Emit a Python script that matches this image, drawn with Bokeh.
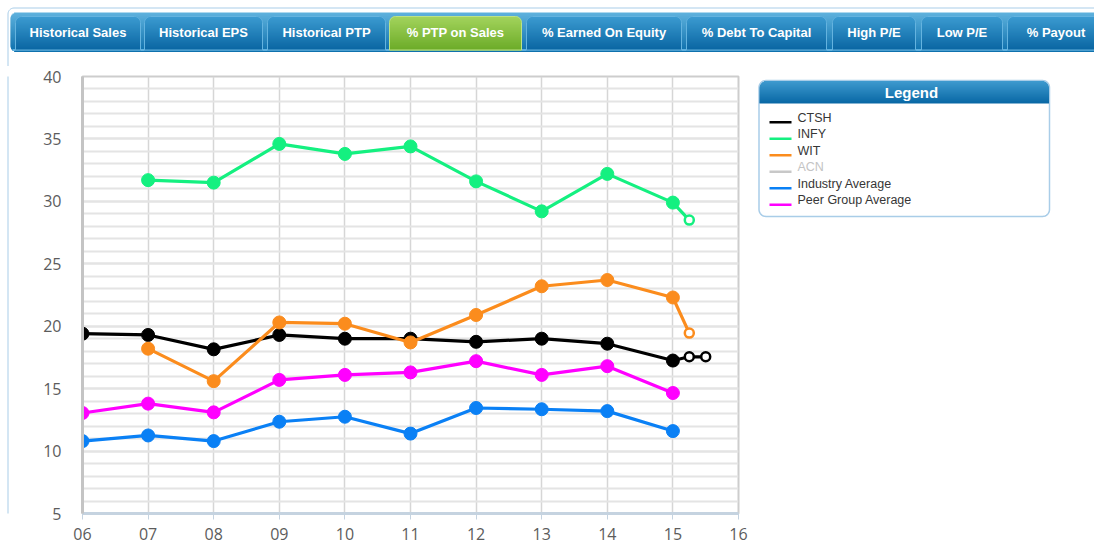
import math
from bokeh.plotting import figure
from bokeh.models import Range1d, FixedTicker
from bokeh.layouts import column, row
from bokeh.core.properties import value
from bokeh.embed import file_html
from bokeh.resources import INLINE

# ---------------- data ----------------
years = [6, 7, 8, 9, 10, 11, 12, 13, 14, 15]
tick_years = [6, 7, 8, 9, 10, 11, 12, 13, 14, 15, 16]
tick_labels = ["06", "07", "08", "09", "10", "11", "12", "13", "14", "15", "16"]
y_ticks = [5, 10, 15, 20, 25, 30, 35, 40]

ctsh = [19.4, 19.3, 18.15, 19.3, 19.0, 19.0, 18.75, 19.0, 18.6, 17.25]
infy = [None, 31.7, 31.5, 34.6, 33.8, 34.4, 31.6, 29.2, 32.2, 29.9]
wit = [None, 18.2, 15.6, 20.3, 20.2, 18.7, 20.9, 23.2, 23.7, 22.3]
industry = [10.8, 11.25, 10.8, 12.35, 12.75, 11.4, 13.45, 13.35, 13.2, 11.6]
peer = [13.05, 13.8, 13.1, 15.7, 16.1, 16.3, 17.2, 16.1, 16.8, 14.65]

est_x_ctsh = [15.25, 15.5]
est_ctsh = [17.55, 17.55]
est_x_infy = [15.25]
est_infy = [28.5]
est_x_wit = [15.25]
est_wit = [19.45]

legend_names = ["CTSH", "INFY", "WIT", "ACN", "Industry Average", "Peer Group Average"]
legend_colors = ["#000000", "#14f080", "#fb8c1d", "#c8c8c8", "#0a80f5", "#ff00ff"]
legend_text_colors = ["#363636", "#363636", "#363636", "#c4c4c4", "#363636", "#363636"]

tab_names = ["Historical Sales", "Historical EPS", "Historical PTP", "% PTP on Sales",
             "% Earned On Equity", "% Debt To Capital", "High P/E", "Low P/E", "% Payout"]
active_tab = "% PTP on Sales"

W, H = 1094, 547
TAB_H = 66          # height of the tab strip figure
STRIP_W = 9         # left border strip
LEG_X = 750         # legend figure starts here
FL, FT, FW, FH = 82, 76, 656, 437   # chart frame on the page
FB = FT + FH
BORDER = "#a9cde8"


# ---------------- helpers for decoration figures (page pixel coords) ----------------
def deco_fig(x0, x1, y0, y1, height):
    f = figure(width=x1 - x0, height=height, x_range=Range1d(x0, x1), y_range=Range1d(y1, y0),
               output_backend="svg", toolbar_location=None, min_border=0,
               x_axis_location=None, y_axis_location=None,
               background_fill_color="white", border_fill_color="white")
    f.outline_line_color = None
    f.grid.visible = False
    return f


def hexmix(c1, c2, t):
    a = [int(c1[i:i + 2], 16) for i in (1, 3, 5)]
    b = [int(c2[i:i + 2], 16) for i in (1, 3, 5)]
    return "#%02x%02x%02x" % tuple(round(a[k] + (b[k] - a[k]) * t) for k in range(3))


def rr_poly(x0, y0, x1, y1, r, n=8):
    tl, tr, br, bl = r
    xs, ys = [], []
    for k in range(n + 1):
        t = math.pi / 2 * k / n
        xs.append(x0 + tl - tl * math.cos(t)); ys.append(y0 + tl - tl * math.sin(t))
    for k in range(n + 1):
        t = math.pi / 2 * k / n
        xs.append(x1 - tr + tr * math.sin(t)); ys.append(y0 + tr - tr * math.cos(t))
    for k in range(n + 1):
        t = math.pi / 2 * k / n
        xs.append(x1 - br + br * math.cos(t)); ys.append(y1 - br + br * math.sin(t))
    for k in range(n + 1):
        t = math.pi / 2 * k / n
        xs.append(x0 + bl - bl * math.sin(t)); ys.append(y1 - bl + bl * math.cos(t))
    return xs, ys


def inset(r, d):
    if r <= 0 or d >= r:
        return 0.0
    dy = r - d
    return r - math.sqrt(max(r * r - dy * dy, 0))


def grad_rr(f, x0, y0, x1, y1, ctop, cbot, r=(0, 0, 0, 0), line=None, lw=1):
    tl, tr, br, bl = r
    L, R, T, B, C = [], [], [], [], []
    n = int(math.ceil(y1 - y0))
    for i in range(n):
        ya = y0 + i
        yb = min(y0 + i + 1, y1)
        ym = (ya + yb) / 2
        dl = max(inset(tl, ym - y0), inset(bl, y1 - ym))
        dr = max(inset(tr, ym - y0), inset(br, y1 - ym))
        L.append(x0 + dl); R.append(x1 - dr); T.append(ya); B.append(yb + 0.6)
        C.append(hexmix(ctop, cbot, i / max(n - 1, 1)))
    f.quad(left=L, right=R, top=T, bottom=B, fill_color=C, line_color=None)
    if line:
        xs, ys = rr_poly(x0, y0, x1, y1, r)
        f.patch(xs, ys, fill_color=None, line_color=line, line_width=lw)


def txt(f, x, y, s, color="white", size="13px", style="bold", align="center"):
    f.text(x=[x], y=[y], text=[s], text_align=align, text_baseline="middle",
           text_color=color, text_font=value("Liberation Sans"),
           text_font_size=size, text_font_style=style)


# ---------------- tab strip ----------------
tabs = deco_fig(0, W, 0, TAB_H, TAB_H)
xs, ys = rr_poly(7.5, 7.5, W + 20, TAB_H + 40, (6, 0, 0, 0))
tabs.patch(xs, ys, fill_color=None, line_color=BORDER, line_width=1)
grad_rr(tabs, 10, 12, W + 10, 51, "#5eb1dd", "#0f71ad", r=(6, 0, 0, 6))
tabs.quad(left=[12], right=[W + 10], top=[48.5], bottom=[50.5], fill_color="#5fb0de", line_color=None)

tab_x = [(15, 140), (144, 262), (267, 385), (389, 521), (526, 681),
         (686, 826), (832, 915), (921, 1002), (1007, W + 10)]
for (x0, x1), name in zip(tab_x, tab_names):
    if name == active_tab:
        ct, cb, cl = "#a2d35c", "#6cab28", "#bde285"
    else:
        ct, cb, cl = "#3b9ad0", "#0a66a2", "#64b3df"
    grad_rr(tabs, x0, 16, x1, 49.5, ct, cb, r=(6, 6, 0, 0), line=cl, lw=1)
    txt(tabs, (x0 + x1) / 2, 32, name)

# ---------------- main chart ----------------
MW, MH = LEG_X - STRIP_W, H - TAB_H
p = figure(width=MW, height=MH,
           x_range=Range1d(6, 16), y_range=Range1d(5, 40),
           output_backend="svg", toolbar_location=None,
           min_border_left=FL - STRIP_W, min_border_top=FT - TAB_H,
           min_border_right=MW - (FL - STRIP_W) - FW,
           min_border_bottom=MH - (FT - TAB_H) - FH,
           background_fill_color="white", border_fill_color="white")
p.outline_line_color = "#cdcdcd"
p.outline_line_width = 2

p.xaxis.ticker = FixedTicker(ticks=tick_years)
p.xaxis.major_label_overrides = {t: l for t, l in zip(tick_years, tick_labels)}
p.yaxis.ticker = FixedTicker(ticks=y_ticks, minor_ticks=list(range(5, 41)))

for ax in (p.xaxis[0], p.yaxis[0]):
    ax.major_label_text_font = "Open Sans"
    ax.major_label_text_font_size = "16px"
    ax.major_label_text_color = "#5c5c5c"
    ax.minor_tick_line_color = None

p.xaxis.axis_line_color = "#c5d3e0"
p.xaxis.axis_line_width = 3
p.xaxis.major_tick_line_color = "#c5d3e0"
p.xaxis.major_tick_line_width = 1
p.xaxis.major_tick_out = 6
p.xaxis.major_tick_in = 0
p.xaxis.major_label_standoff = 8

p.yaxis.axis_line_color = "#c4c4c4"
p.yaxis.axis_line_width = 3
p.yaxis.major_tick_line_color = None
p.yaxis.major_tick_out = 0
p.yaxis.major_tick_in = 0
p.yaxis.major_label_standoff = 17

p.xgrid.grid_line_color = "#d6d6d6"
p.xgrid.grid_line_width = 1.5
p.ygrid.grid_line_color = "#e4e4e4"
p.ygrid.grid_line_width = 2
p.ygrid.minor_grid_line_color = "#e4e4e4"
p.ygrid.minor_grid_line_width = 2


def series(vals, color, ex=None, ey=None):
    xs = [x for x, v in zip(years, vals) if v is not None]
    ys = [v for v in vals if v is not None]
    lx, ly = list(xs), list(ys)
    if ex:
        lx += ex
        ly += ey
    p.line(lx, ly, line_color=color, line_width=3.2)
    p.scatter(xs, ys, size=13, fill_color=color, line_color=color)
    if ex:
        p.scatter(ex, ey, size=9, fill_color="white", line_color=color, line_width=2.5)


series(ctsh, legend_colors[0], est_x_ctsh, est_ctsh)
series(infy, legend_colors[1], est_x_infy, est_infy)
series(wit, legend_colors[2], est_x_wit, est_wit)
series(industry, legend_colors[4])
series(peer, legend_colors[5])

# ---------------- left border strip and legend (frames aligned with the chart frame) ----------------
strip = deco_fig(0, STRIP_W, FT, FB, MH)
strip.line([7.5, 7.5], [FT - 30, FB + 60], line_color=BORDER, line_width=1)

leg = deco_fig(LEG_X, W, FT, FB, MH)
LX0, LY0, LX1, LY1 = 758.5, 80, 1049, 216
xs, ys = rr_poly(LX0, LY0, LX1, LY1, (7, 7, 7, 7))
leg.patch(xs, ys, fill_color="white", line_color=BORDER, line_width=1.5)
grad_rr(leg, LX0 + 0.5, LY0 + 0.5, LX1 - 0.5, LY0 + 22.5, "#3d99ce", "#0a69a6", r=(7, 7, 0, 0))
txt(leg, 911, LY0 + 11.5, "Legend", size="15px")

for i, (name, col, tcol) in enumerate(zip(legend_names, legend_colors, legend_text_colors)):
    yt = 117.3 + 16.5 * i
    leg.quad(left=[769], right=[791], top=[yt + 3.2], bottom=[yt + 5.7], fill_color=col, line_color=None)
    txt(leg, 797, yt, name, color=tcol, size="12.5px", style="normal", align="left")

layout = column(tabs, row(strip, p, leg))
open("out.html", "w").write(file_html(layout, INLINE))
